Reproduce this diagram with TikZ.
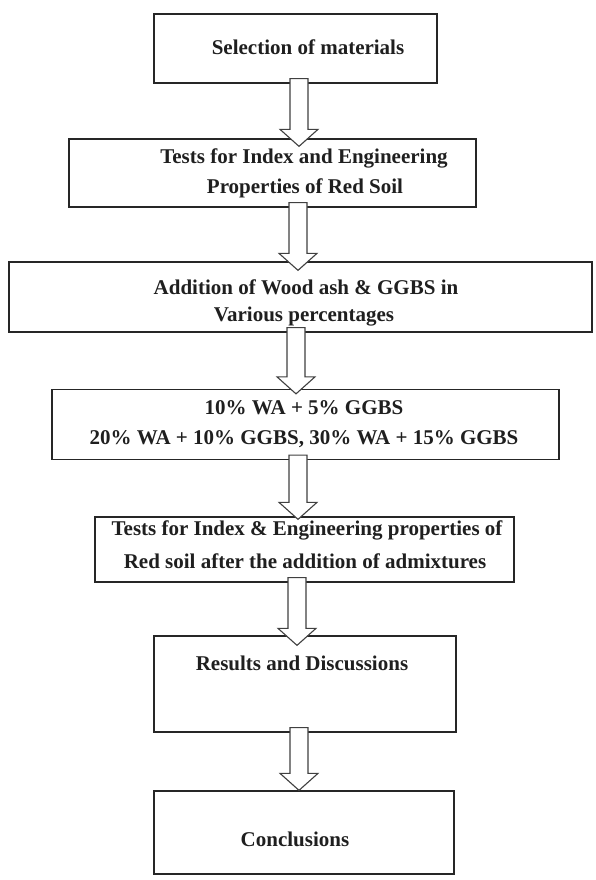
\documentclass[tikz,border=0pt]{standalone}
\usepackage{fontspec}
\setmainfont{Liberation Serif}
\usetikzlibrary{calc}
\begin{document}
\begin{tikzpicture}[x=1pt,y=-1pt,
  box/.style={draw=black!85, line width=1.3pt, inner sep=0pt},
  lbl/.style={font=\bfseries\fontsize{21}{23}\selectfont, text=black!88, inner sep=0pt},
  arr/.style={draw=black!75, line width=1.1pt, fill=white, line join=miter}]
\useasboundingbox (0,0) rectangle (595,880);

% boxes
\node[box, minimum width=283pt, minimum height=69pt] (b1) at (295.5,48.5) {};
\node[box, minimum width=407pt, minimum height=68pt] (b2) at (272.5,173) {};
\node[box, minimum width=583pt, minimum height=70pt] (b3) at (300.5,297) {};
\node[box, minimum width=507pt, minimum height=70pt] (b4) at (305.5,424.5) {};
\node[box, minimum width=419pt, minimum height=65pt] (b5) at (304.5,549.5) {};
\node[box, minimum width=302pt, minimum height=96pt] (b6) at (305,684) {};
\node[box, minimum width=300pt, minimum height=83pt] (b7) at (304,832.5) {};

% labels
\node[lbl] (t1) at (308,47) {Selection of materials};
\node[lbl] (t2a) at (304,158) {Tests for Index and Engineering};
\node[lbl] (t2b) at (305,188) {Properties of Red Soil};
\node[lbl] (t3a) at (306,287) {Addition of Wood ash \& GGBS in};
\node[lbl] (t3b) at (304,317) {Various percentages};
\node[lbl] (t4a) at (304,408) {10\% WA + 5\% GGBS};
\node[lbl] (t4b) at (304,439) {20\% WA + 10\% GGBS, 30\% WA + 15\% GGBS};
\node[lbl] (t5a) at (307,530) {Tests for Index \& Engineering properties of};
\node[lbl] (t5b) at (305,561) {Red soil after the addition of admixtures};
\node[lbl] (t6) at (302,663) {Results and Discussions};
\node[lbl] (t7) at (295,839) {Conclusions};

% arrow axes
\coordinate (x1) at (299,0);
\coordinate (x2) at (298,0);
\coordinate (x3) at (296,0);
\coordinate (x4) at (298,0);
\coordinate (x5) at (297,0);
\coordinate (x6) at (299,0);

\newcommand\blockarrow[4]{%
  \draw[arr] let \p1=($(#1.south -| #3)+(0,-5)$), \p2=($(#2.north -| #3)+(0,#4)$) in
    (\x1-9pt,\y1) -- (\x1-9pt,\y2+17pt) -- (\x1-19pt,\y2+17pt) -- (\x2,\y2)
    -- (\x1+19pt,\y2+17pt) -- (\x1+9pt,\y2+17pt) -- (\x1+9pt,\y1) -- cycle;}

\blockarrow{b1}{b2}{x1}{8}
\blockarrow{b2}{b3}{x2}{9}
\blockarrow{b3}{b4}{x3}{5}
\blockarrow{b4}{b5}{x4}{3}
\blockarrow{b5}{b6}{x5}{10}
\blockarrow{b6}{b7}{x6}{0}
\end{tikzpicture}
\end{document}
